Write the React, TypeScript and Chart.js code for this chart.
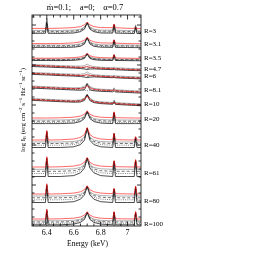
import React, { useEffect, useRef } from "react";
import { Chart, registerables } from "chart.js";
Chart.register(...registerables);

// Energy grid (keV)
const ENERGY = [6.29, 6.39, 6.40, 6.41, 6.50, 6.60, 6.65, 6.68, 6.70, 6.72, 6.75, 6.80, 6.89, 6.90, 6.91, 7.00, 7.05, 7.06, 7.07, 7.10];

// Panel labels and vertical offsets (arbitrary log I_E units, stacked)
const R_LABELS = ["R=3", "R=3.1", "R=3.5", "R=4.7", "R=6", "R=8.1", "R=10", "R=20", "R=40", "R=61", "R=80", "R=100"];
const R_LABEL_Y = [195, 181.5, 167.5, 157, 150, 135.5, 122, 107, 81, 53, 25, 2];
const PANEL_BASE = [197, 182, 167.5, 161.5, 153.5, 140, 127.5, 108, 86, 59, 32, 7];

const X_TICKS = [6.4, 6.6, 6.8, 7.0];
const X_TICK_LABELS = ["6.4", "6.6", "6.8", "7"];

// each panel: [red, grey solid, dashed, dotted, black solid], offsets relative to base
const PANEL_R3 = [
  [0.6, 0.6, 0.6, 0.6, 0.8, 1.4, 2.4, 4.2, 7.0, 4.2, 2.4, 1.4, 1.3, 5.0, 1.3, 0.7, 0.6, 1.6, 0.5, 0.4],
  [-1.4, -1.4, 11.0, -1.4, -1.5, -1.1, -0.2, 2.0, 6.6, 2.0, -0.2, -1.1, -1.2, 4.6, -1.2, -1.5, -1.6, 4.2, -1.6, -1.7],
  [-2.4, -2.4, 9.5, -2.4, -2.5, -2.1, -1.1, 1.3, 6.4, 1.3, -1.1, -2.1, -2.2, 4.4, -2.2, -2.5, -2.6, 3.4, -2.6, -2.7],
  [-3.3, -3.3, 8.0, -3.3, -3.4, -3.0, -1.9, 0.6, 6.2, 0.6, -1.9, -3.0, -3.1, 4.2, -3.1, -3.4, -3.5, 2.5, -3.5, -3.6],
  [-4.3, -4.3, 6.5, -4.3, -4.4, -4.0, -2.7, -0.1, 6.0, -0.1, -2.7, -4.0, -4.1, 4.0, -4.1, -4.4, -4.5, 1.5, -4.5, -4.6],
];
const PANEL_R3_1 = [
  [0.4, 0.4, 0.4, 0.4, 0.5, 1.1, 2.1, 3.8, 6.8, 3.8, 2.1, 1.1, 0.9, 4.3, 0.9, 0.4, 0.3, 0.3, 0.3, 0.2],
  [-1.0, -1.0, -1.0, -1.0, -1.1, -0.8, 0.1, 2.1, 6.6, 2.1, 0.1, -0.8, -1.0, 4.1, -1.0, -1.1, -1.2, -1.2, -1.2, -1.3],
  [-1.8, -1.8, -1.8, -1.8, -1.9, -1.6, -0.7, 1.4, 6.4, 1.4, -0.7, -1.6, -1.8, 3.9, -1.8, -1.9, -2.0, -2.0, -2.0, -2.1],
  [-2.6, -2.6, -2.6, -2.6, -2.7, -2.4, -1.5, 0.7, 6.2, 0.7, -1.5, -2.4, -2.6, 3.7, -2.6, -2.7, -2.8, -2.8, -2.8, -2.9],
  [-3.4, -3.4, -3.4, -3.4, -3.5, -3.2, -2.3, 0.0, 6.0, 0.0, -2.3, -3.2, -3.4, 3.5, -3.4, -3.5, -3.6, -3.6, -3.6, -3.7],
];
const PANEL_R3_5 = [
  [0.3, 0.3, 0.3, 0.3, 0.4, 0.9, 1.6, 2.9, 5.2, 2.9, 1.6, 0.9, 0.6, 3.8, 0.6, 0.3, 0.2, 0.2, 0.2, 0.1],
  [-0.5, -0.5, -0.5, -0.5, -0.6, -0.3, 0.3, 1.6, 5.0, 1.6, 0.3, -0.3, -0.5, 4.0, -0.5, -0.6, -0.7, -0.7, -0.7, -0.8],
  [-1.0, -1.0, -1.0, -1.0, -1.1, -0.8, -0.2, 1.1, 4.8, 1.1, -0.2, -0.8, -1.0, 3.8, -1.0, -1.1, -1.2, -1.2, -1.2, -1.3],
  [-1.5, -1.5, -1.5, -1.5, -1.6, -1.3, -0.7, 0.6, 4.6, 0.6, -0.7, -1.3, -1.5, 3.6, -1.5, -1.6, -1.7, -1.7, -1.7, -1.8],
  [-2.0, -2.0, -2.0, -2.0, -2.1, -1.8, -1.2, 0.1, 4.4, 0.1, -1.2, -1.8, -2.0, 3.4, -2.0, -2.1, -2.2, -2.2, -2.2, -2.3],
];
const PANEL_R4_7 = [
  [-0.8, -1.4, -1.5, -1.5, -2.1, -2.7, -2.9, -2.7, -2.0, -2.8, -3.3, -3.7, -4.3, -3.9, -4.4, -5.0, -5.2, -5.3, -5.3, -5.5],
  [0.0, -0.5, -0.6, -0.6, -1.1, -1.6, -1.6, -1.1, 0.4, -1.2, -2.1, -2.7, -3.2, -2.5, -3.3, -3.8, -4.0, -4.1, -4.1, -4.3],
  [-0.8, -1.3, -1.4, -1.4, -1.9, -2.4, -2.8, -3.3, -3.8, -3.3, -3.2, -3.5, -4.0, -3.7, -4.1, -4.6, -4.8, -4.9, -4.9, -5.1],
  [-1.4, -1.9, -2.0, -2.0, -2.5, -3.0, -3.1, -2.8, -1.8, -2.9, -3.6, -4.1, -4.6, -4.2, -4.7, -5.2, -5.4, -5.5, -5.5, -5.7],
  [-2.0, -2.5, -2.6, -2.6, -3.1, -3.6, -4.0, -4.5, -5.0, -4.5, -4.4, -4.7, -5.2, -5.0, -5.3, -5.8, -6.0, -6.1, -6.1, -6.3],
];
const PANEL_R6 = [
  [-0.9, -1.5, -1.6, -1.6, -2.2, -2.8, -3.0, -2.8, -2.2, -2.9, -3.4, -3.8, -4.5, -4.1, -4.6, -5.2, -5.4, -5.5, -5.5, -5.7],
  [0.0, -0.5, -0.6, -0.6, -1.2, -1.7, -1.7, -1.1, 0.6, -1.2, -2.2, -2.8, -3.3, -2.6, -3.4, -4.0, -4.2, -4.3, -4.3, -4.5],
  [-0.7, -1.2, -1.3, -1.3, -1.9, -2.4, -2.8, -3.3, -3.9, -3.3, -3.1, -3.5, -4.0, -3.8, -4.1, -4.7, -4.9, -5.0, -5.0, -5.2],
  [-1.3, -1.8, -1.9, -1.9, -2.5, -3.0, -3.1, -2.7, -1.5, -2.8, -3.6, -4.1, -4.6, -4.2, -4.7, -5.3, -5.5, -5.6, -5.6, -5.8],
  [-1.9, -2.4, -2.5, -2.5, -3.1, -3.6, -4.0, -4.6, -5.1, -4.6, -4.4, -4.7, -5.2, -5.0, -5.3, -5.9, -6.1, -6.2, -6.2, -6.4],
];
const PANEL_R8_1 = [
  [-1.0, -1.6, -1.7, -1.7, -2.3, -2.7, -2.6, -1.8, 0.2, -2.0, -3.4, -4.1, -4.6, -3.6, -4.7, -5.4, -5.7, -5.8, -5.8, -6.0],
  [0.0, -0.6, -0.7, -0.7, -1.3, -1.8, -1.6, -0.4, 2.8, -0.5, -2.4, -3.2, -3.7, -1.8, -3.8, -4.4, -4.7, -4.8, -4.8, -5.0],
  [-0.8, -1.4, -1.5, -1.5, -2.1, -2.6, -2.5, -1.4, 2.4, -1.5, -3.2, -4.0, -4.5, -2.8, -4.6, -5.2, -5.5, -5.6, -5.6, -5.8],
  [-1.5, -2.1, -2.2, -2.2, -2.8, -3.4, -3.8, -4.3, -4.6, -4.4, -4.2, -4.7, -5.2, -5.0, -5.3, -5.9, -6.2, -6.3, -6.3, -6.5],
  [-2.1, -2.7, -2.8, -2.8, -3.4, -4.0, -4.2, -3.6, 1.8, -3.7, -4.8, -5.3, -5.8, -4.6, -5.9, -6.5, -6.8, -6.9, -6.9, -7.1],
];
const PANEL_R10 = [
  [-1.0, -1.7, -1.8, -1.8, -2.4, -2.8, -2.4, -0.8, 2.5, -1.0, -3.3, -4.3, -5.0, -3.5, -5.1, -5.8, -6.1, -6.2, -6.2, -6.5],
  [0.0, -0.7, -0.8, -0.8, -1.4, -1.9, -1.4, 0.5, 4.5, 0.3, -2.3, -3.3, -4.0, -1.5, -4.1, -4.8, -5.1, -5.2, -5.2, -5.5],
  [-0.6, -1.3, -1.4, -1.4, -2.0, -2.5, -2.1, -0.3, 4.2, -0.5, -2.9, -3.9, -4.6, -2.2, -4.7, -5.4, -5.7, -5.8, -5.8, -6.1],
  [-1.2, -1.9, -2.0, -2.0, -2.6, -3.1, -2.8, -1.1, 3.9, -1.3, -3.5, -4.5, -5.2, -2.9, -5.3, -6.0, -6.3, -6.4, -6.4, -6.7],
  [-1.8, -2.5, -2.6, -2.6, -3.2, -3.7, -3.5, -1.9, 3.6, -2.1, -4.1, -5.1, -5.8, -3.6, -5.9, -6.6, -6.9, -7.0, -7.0, -7.3],
];
const PANEL_R20 = [
  [0.0, 0.0, 0.0, 0.0, 0.2, 0.8, 1.9, 3.8, 7.2, 3.8, 1.9, 0.8, 0.3, 6.2, 0.3, 0.1, 0.0, 0.0, 0.0, 0.0],
  [-2.0, -2.0, -2.0, -2.0, -2.0, -1.6, -0.6, 1.8, 6.8, 1.8, -0.6, -1.6, -2.0, 5.8, -2.0, -2.0, -2.0, -2.0, -2.0, -2.0],
  [-3.2, -3.2, -3.2, -3.2, -3.2, -2.8, -1.6, 1.0, 6.6, 1.0, -1.6, -2.8, -3.2, 5.6, -3.2, -3.2, -3.2, -3.2, -3.2, -3.2],
  [-4.4, -4.4, -4.4, -4.4, -4.4, -4.0, -2.6, 0.3, 6.4, 0.3, -2.6, -4.0, -4.4, 5.4, -4.4, -4.4, -4.4, -4.4, -4.4, -4.4],
  [-5.6, -5.6, -5.6, -5.6, -5.6, -5.1, -3.6, -0.5, 6.2, -0.5, -3.6, -5.1, -5.6, 5.2, -5.6, -5.6, -5.6, -5.6, -5.6, -5.6],
];
const PANEL_R40 = [
  [0.0, 0.0, 9.5, 0.0, 0.2, 1.0, 2.6, 5.5, 12.5, 5.5, 2.6, 1.0, 0.3, 7.0, 0.3, 0.1, 0.0, 3.5, 0.0, 0.0],
  [-2.0, -2.0, 9.0, -2.0, -2.0, -1.5, -0.2, 3.0, 12.0, 3.0, -0.2, -1.5, -2.0, 6.5, -2.0, -2.0, -2.0, 3.0, -2.0, -2.0],
  [-3.5, -3.5, 8.5, -3.5, -3.5, -3.0, -1.4, 2.0, 12.0, 2.0, -1.4, -3.0, -3.5, 6.5, -3.5, -3.5, -3.5, 2.5, -3.5, -3.5],
  [-5.2, -5.2, 8.0, -5.2, -5.2, -4.6, -2.8, 1.0, 11.8, 1.0, -2.8, -4.6, -5.2, 6.2, -5.2, -5.2, -5.2, 2.0, -5.2, -5.2],
  [-7.5, -7.5, 7.5, -7.5, -7.5, -6.8, -4.6, -0.3, 11.5, -0.3, -4.6, -6.8, -7.5, 6.0, -7.5, -7.5, -7.5, 1.5, -7.5, -7.5],
];
const PANEL_R61 = [
  [0.0, 0.0, 10.3, 0.0, 0.2, 0.9, 2.3, 4.7, 9.5, 4.7, 2.3, 0.9, 0.3, 6.5, 0.3, 0.1, 0.0, 7.5, 0.0, 0.0],
  [-2.3, -2.3, 9.5, -2.3, -2.3, -1.8, -0.5, 2.5, 9.2, 2.5, -0.5, -1.8, -2.3, 6.0, -2.3, -2.3, -2.3, 7.0, -2.3, -2.3],
  [-4.3, -4.3, 9.0, -4.3, -4.3, -3.7, -2.0, 1.5, 9.0, 1.5, -2.0, -3.7, -4.3, 5.8, -4.3, -4.3, -4.3, 6.8, -4.3, -4.3],
  [-6.5, -6.5, 8.5, -6.5, -6.5, -5.8, -3.7, 0.3, 8.8, 0.3, -3.7, -5.8, -6.5, 5.6, -6.5, -6.5, -6.5, 6.5, -6.5, -6.5],
  [-9.5, -9.5, 8.0, -9.5, -9.5, -8.6, -5.8, -1.0, 8.5, -1.0, -5.8, -8.6, -9.5, 5.4, -9.5, -9.5, -9.5, 6.2, -9.5, -9.5],
];
const PANEL_R80 = [
  [0.0, 0.0, 10.3, 0.0, 0.2, 0.9, 2.2, 4.3, 8.3, 4.3, 2.2, 0.9, 0.3, 5.8, 0.3, 0.1, 0.0, 8.0, 0.0, 0.0],
  [-2.0, -2.0, 9.5, -2.0, -2.0, -1.5, -0.3, 2.2, 8.0, 2.2, -0.3, -1.5, -2.0, 5.5, -2.0, -2.0, -2.0, 7.5, -2.0, -2.0],
  [-3.8, -3.8, 9.0, -3.8, -3.8, -3.2, -1.6, 1.2, 7.8, 1.2, -1.6, -3.2, -3.8, 5.3, -3.8, -3.8, -3.8, 7.2, -3.8, -3.8],
  [-5.8, -5.8, 8.5, -5.8, -5.8, -5.1, -3.2, 0.2, 7.6, 0.2, -3.2, -5.1, -5.8, 5.1, -5.8, -5.8, -5.8, 7.0, -5.8, -5.8],
  [-8.5, -8.5, 8.0, -8.5, -8.5, -7.7, -5.2, -1.0, 7.4, -1.0, -5.2, -7.7, -8.5, 4.9, -8.5, -8.5, -8.5, 6.8, -8.5, -8.5],
];
const PANEL_R100 = [
  [0.0, 0.0, 10.0, 0.0, 0.2, 0.8, 2.0, 3.9, 7.3, 3.9, 2.0, 0.8, 0.3, 7.5, 0.3, 0.1, 0.0, 7.5, 0.0, 0.0],
  [-1.8, -1.8, 9.3, -1.8, -1.8, -1.3, -0.2, 2.0, 7.0, 2.0, -0.2, -1.3, -1.8, 7.0, -1.8, -1.8, -1.8, 7.0, -1.8, -1.8],
  [-3.0, -3.0, 8.8, -3.0, -3.0, -2.5, -1.2, 1.2, 6.8, 1.2, -1.2, -2.5, -3.0, 6.8, -3.0, -3.0, -3.0, 6.8, -3.0, -3.0],
  [-4.3, -4.3, 8.3, -4.3, -4.3, -3.7, -2.2, 0.4, 6.6, 0.4, -2.2, -3.7, -4.3, 6.6, -4.3, -4.3, -4.3, 6.6, -4.3, -4.3],
  [-5.8, -5.8, 7.8, -5.8, -5.8, -5.1, -3.4, -0.4, 6.4, -0.4, -3.4, -5.1, -5.8, 6.4, -5.8, -5.8, -5.8, 6.4, -5.8, -5.8],
];

const PANELS = [PANEL_R3, PANEL_R3_1, PANEL_R3_5, PANEL_R4_7, PANEL_R6, PANEL_R8_1, PANEL_R10, PANEL_R20, PANEL_R40, PANEL_R61, PANEL_R80, PANEL_R100];

const CURVE_STYLES = [
  { color: "rgba(255,0,0,0.7)", width: 0.85, dash: [] as number[] },
  { color: "#8c8c8c", width: 0.7, dash: [] as number[] },
  { color: "#3a3a3a", width: 0.7, dash: [3, 2] },
  { color: "#4a4a4a", width: 0.7, dash: [1, 1.2] },
  { color: "#000000", width: 0.7, dash: [] as number[] },
];

const SERIF = "'Liberation Serif', 'DejaVu Serif', serif";

const decorPlugin = {
  id: "decor",
  afterDraw(chart: any) {
    const { ctx, chartArea } = chart;
    const { left, right, top, bottom } = chartArea;
    const xs = chart.scales.x;
    const ys = chart.scales.y;
    ctx.save();
    ctx.strokeStyle = "#000";
    ctx.lineWidth = 0.8;
    ctx.setLineDash([]);
    ctx.strokeRect(left, top, right - left, bottom - top);
    // x ticks (inward, top and bottom)
    ctx.beginPath();
    for (let k = 126; k <= 142; k++) {
      const v = k * 0.05;
      const px = xs.getPixelForValue(v);
      if (px <= left + 0.5 || px >= right - 0.5) continue;
      const major = X_TICKS.some((t) => Math.abs(t - v) < 1e-6);
      const len = major ? 4.5 : 2.5;
      ctx.moveTo(px, bottom);
      ctx.lineTo(px, bottom - len);
      ctx.moveTo(px, top);
      ctx.lineTo(px, top + len);
    }
    // y ticks (inward, left and right)
    for (let k = 1; k * 8 < 211; k++) {
      const py = ys.getPixelForValue(k * 8 + 1);
      const len = k % 5 === 0 ? 4 : 2.5;
      ctx.moveTo(left, py);
      ctx.lineTo(left + len, py);
      ctx.moveTo(right, py);
      ctx.lineTo(right - len, py);
    }
    ctx.stroke();

    ctx.fillStyle = "#000";
    // x tick labels
    ctx.font = `8px ${SERIF}`;
    ctx.textAlign = "center";
    ctx.textBaseline = "middle";
    X_TICKS.forEach((t, i) => {
      ctx.fillText(X_TICK_LABELS[i], xs.getPixelForValue(t), bottom + 7);
    });
    // x title
    ctx.font = `7.5px ${SERIF}`;
    ctx.fillText("Energy (keV)", (left + right) / 2 + 1, bottom + 18.5);

    // R labels
    ctx.font = `7px ${SERIF}`;
    ctx.textAlign = "left";
    R_LABELS.forEach((lab, i) => {
      ctx.fillText(lab, right + 3, ys.getPixelForValue(R_LABEL_Y[i]));
    });

    // title
    ctx.font = `8.5px ${SERIF}`;
    ctx.textAlign = "center";
    ctx.fillText("ṁ=0.1;    a=0;    α=0.7", 85, 7.5);

    // y axis label (rotated, with sub/superscripts)
    const segs: [string, number][] = [
      ["log I", 0], ["E", -1], [" (erg cm", 0], ["−2", 1], [" s", 0], ["−1", 1],
      [" Hz", 0], ["−1", 1], [" sr", 0], ["−1", 1], [")", 0],
    ];
    const baseF = `7px ${SERIF}`;
    const smallF = `5px ${SERIF}`;
    let total = 0;
    const widths = segs.map(([s, m]) => {
      ctx.font = m === 0 ? baseF : smallF;
      const w = ctx.measureText(s).width;
      total += w;
      return w;
    });
    ctx.translate(22, 110);
    ctx.rotate(-Math.PI / 2);
    ctx.textAlign = "left";
    ctx.textBaseline = "alphabetic";
    let cx = -total / 2;
    segs.forEach(([s, m], i) => {
      ctx.font = m === 0 ? baseF : smallF;
      const dy = m === 0 ? 0 : m > 0 ? -3 : 1.8;
      ctx.fillText(s, cx, 2.5 + dy);
      cx += widths[i];
    });
    ctx.restore();
  },
};

export default function App() {
  const ref = useRef<HTMLCanvasElement | null>(null);
  useEffect(() => {
    if (!ref.current) return;
    const datasets: any[] = [];
    PANELS.forEach((panel, pi) => {
      panel.forEach((curve, ci) => {
        const st = CURVE_STYLES[ci];
        datasets.push({
          data: ENERGY.map((e, j) => ({ x: e, y: PANEL_BASE[pi] + curve[j] })),
          borderColor: st.color,
          borderWidth: st.width,
          borderDash: st.dash,
          pointRadius: 0,
          fill: false,
          tension: 0,
          order: ci === 0 ? 0 : 5 - ci,
        });
      });
    });
    const chart = new Chart(ref.current, {
      type: "line",
      data: { datasets },
      options: {
        responsive: false,
        animation: false,
        parsing: false as any,
        layout: { padding: { left: 32, right: 117, top: 15, bottom: 32 } },
        plugins: { legend: { display: false }, tooltip: { enabled: false }, title: { display: false } },
        scales: {
          x: { type: "linear", min: 6.29, max: 7.1, display: false },
          y: { type: "linear", min: 0, max: 211, display: false },
        },
      },
      plugins: [decorPlugin],
    });
    return () => chart.destroy();
  }, []);
  return (
    <div style={{ position: "fixed", left: 0, top: 0, width: 258, height: 258, background: "#fff" }}>
      <canvas ref={ref} width={258} height={258} style={{ display: "block", width: 258, height: 258 }} />
    </div>
  );
}
